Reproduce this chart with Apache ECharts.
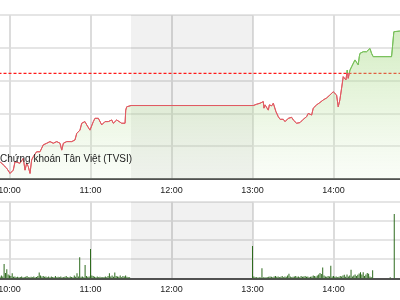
<!DOCTYPE html>
<html><head><meta charset="utf-8">
<script src="https://cdn.jsdelivr.net/npm/echarts@6/dist/echarts.min.js"></script>
<style>html,body{margin:0;padding:0;background:#fff}#c{width:400px;height:300px}</style>
</head><body><div id="c"></div>
<script>
// time in minutes since midnight
const priceTimes = [593.0,595.4,597.9,600.4,601.6,602.8,604.1,605.3,607.8,610.2,611.5,612.7,613.9,615.2,616.4,617.6,620.1,622.6,625.0,626.3,627.6,630.0,631.3,632.4,635.0,637.4,638.7,639.9,642.4,646.1,648.5,649.8,651.0,652.2,653.5,654.7,655.9,657.2,658.4,659.6,660.9,662.1,663.3,664.6,665.8,667.0,668.3,669.5,670.7,672.0,673.2,674.4,675.7,676.9,679.4,680.6,683.1,684.3,685.6,686.1,686.8,690.0,
  780.6,783.1,785.6,786.8,788.0,788.5,789.3,790.5,791.7,792.5,793.5,794.2,795.4,796.7,797.4,798.4,799.1,800.4,801.6,802.8,804.1,805.3,806.5,807.8,809.0,810.2,811.5,812.7,813.9,815.2,816.4,817.6,818.9,820.1,821.3,822.6,823.8,825.0,826.3,827.5,829.9,832.4,834.9,837.3,839.8,841.0,842.3,843.5,844.7,846.0,847.2,848.5,849.2,850.2,850.9,852.2,853.4,854.6,855.9,856.6,857.1,858.3,859.1,859.6,860.8,862.0,863.3,864.5,865.7,867.0,868.2,869.4,883.0,883.7,884.7,889.1,893.0];
const priceValues = [560.53,560.43,560.33,560.17,560.12,560.27,560.53,560.58,560.48,560.63,560.27,560.48,560.38,560.17,560.58,560.68,560.83,560.83,561.04,560.98,561.09,561.14,561.19,561.09,561.14,561.09,560.88,561.09,561.14,561.14,561.19,561.39,561.39,561.49,561.70,561.65,561.75,561.65,561.59,561.49,561.55,561.75,561.85,561.90,561.85,561.90,561.65,561.70,561.75,561.70,561.75,561.70,561.80,561.70,561.80,561.75,561.70,561.75,561.70,562.10,562.20,562.24,
  562.24,562.28,562.31,562.33,562.36,562.16,562.26,562.31,562.10,562.26,562.29,562.23,562.31,562.26,562.05,562.00,561.90,561.82,561.78,561.82,561.75,561.80,561.85,561.82,561.88,561.80,561.82,561.70,561.65,561.72,561.70,561.82,561.80,561.90,562.00,562.02,561.95,562.16,562.20,562.26,562.33,562.41,562.47,562.56,562.66,562.69,562.56,562.20,562.41,562.77,563.12,563.14,563.02,563.32,563.07,563.32,563.42,563.48,563.63,563.58,563.68,563.48,563.73,563.83,563.83,563.88,563.83,563.88,563.93,563.98,563.83,563.73,563.73,564.03,564.49,564.51,564.51];
const refValue = 563.22;
const lunchBreak = [690, 780];
const axisRange = [540, 900];

const volMorningStart = 593;
const volMorning = [0.08,0.15,0.1,0.75,0.28,0.47,0.2,0.15,0.12,0.26,0.08,0.1,0.06,0.08,0.05,0.07,0.1,0.06,0.05,0.08,0.12,0.06,0.05,0.08,0.06,0.1,0.05,0.07,0.12,0.3,0.15,0.1,0.12,0.08,0.1,0.06,0.09,0.05,0.1,0.07,0.05,0.12,0.06,0.08,0.05,0.1,0.06,0.05,0.08,0.12,0.06,0.05,0.1,0.07,0.06,0.15,0.08,0.26,0.1,1.1,0.08,0.1,0.06,0.7,0.12,0.08,0.1,1.53,0.15,0.12,0.08,0.06,0.1,0.05,0.08,0.06,0.05,0.07,0.1,0.06,0.12,0.26,0.1,0.15,0.08,0.3,0.12,0.1,0.08,0.15,0.06,0.12,0.1,0.14,0.08,0.06,0.05];
const volAfternoonStart = 780;
const volAfternoon = [1.69,0.1,0.06,0.05,0.04,0.05,0.04,0.52,0.05,0.04,0.05,0.06,0.08,0.1,0.08,0.06,0.1,0.12,0.08,0.1,0.06,0.08,0.12,0.06,0.1,0.08,0.15,0.24,0.1,0.06,0.08,0.1,0.12,0.08,0.1,0.06,0.12,0.08,0.1,0.12,0.08,0.1,0.06,0.08,0.1,0.15,0.12,0.1,0.15,0.2,0.28,0.22,0.57,0.15,0.1,0.08,0.12,0.1,0.66,0.1,0.12,0.08,0.1,0.06,0.08,0.12,0.1,0.15,0.18,0.08,0.2,0.1,0.15,0.45,0.1,0.15,0.2,0.12,0.18,0.25,0.31,0.2,0.31,0.12,0.2,0.28,0.24,0.1,0.05,0.42];
const volLateTimes = [882, 885];
const volLateValues = [0.05, 3.36];

const priceData = priceTimes.map((t, i) => [t, priceValues[i]]);
const refData = axisRange.map(t => [t, refValue]);
const volData = volMorning.map((v, i) => [volMorningStart + i, v])
  .concat(volAfternoon.map((v, i) => [volAfternoonStart + i, v]))
  .concat(volLateTimes.map((t, i) => [t, volLateValues[i]]));

const RED = '#e05a62', GREEN = '#78c05a';
const fmt = v => { const h = Math.floor(v / 60), m = Math.round(v % 60); return h + ':' + (m < 10 ? '0' : '') + m; };
const FONT = '"Liberation Sans", Arial, sans-serif';
const xBase = {
  type: 'value', min: axisRange[0], max: axisRange[1], interval: 60,
  axisLine: { show: true, lineStyle: { color: '#222', width: 1.5 } },
  axisTick: { show: false },
  axisLabel: { formatter: fmt, fontSize: 9, color: '#222', fontFamily: FONT, margin: 7 },
  splitLine: { show: true, lineStyle: { color: '#dcdcdc', width: 2 } }
};
const yBase = {
  type: 'value', axisLine: { show: false }, axisTick: { show: false }, axisLabel: { show: false },
  splitLine: { show: true, lineStyle: { color: '#dcdcdc', width: 1.5 } }
};
const band = { silent: true, itemStyle: { color: 'rgba(0,0,0,0.055)' },
  data: [[{ xAxis: lunchBreak[0] }, { xAxis: lunchBreak[1] }]] };

const chart = echarts.init(document.getElementById('c'), null, { renderer: 'canvas' });
chart.setOption({
  animation: false,
  title: { text: 'Chứng khoán Tân Việt (TVSI)', left: 0, top: 154, padding: 0,
    textStyle: { fontSize: 10, fontWeight: 'normal', color: '#222', fontFamily: FONT } },
  grid: [
    { left: -71.5, right: -14.5, top: 15, height: 164, outerBoundsMode: 'none', containLabel: false },
    { left: -71.5, right: -14.5, top: 201.7, height: 76.6, outerBoundsMode: 'none', containLabel: false }
  ],
  xAxis: [Object.assign({ gridIndex: 0 }, xBase), Object.assign({ gridIndex: 1 }, xBase)],
  yAxis: [Object.assign({ gridIndex: 0, min: 560, max: 565, interval: 1 }, yBase),
          Object.assign({ gridIndex: 1, min: 0, max: 4, interval: 1 }, yBase)],
  series: [
    { id: 'ref', type: 'line', xAxisIndex: 0, yAxisIndex: 0, data: refData, z: 1, silent: true,
      showSymbol: false, lineStyle: { color: '#ff1a1a', type: [3, 2], width: 1.2 } },
    { id: 'price', type: 'line', xAxisIndex: 0, yAxisIndex: 0, data: priceData, z: 3, showSymbol: false,
      lineStyle: { width: 1, color: RED },
      areaStyle: { color: new echarts.graphic.LinearGradient(0, 0, 0, 1, [
        { offset: 0, color: 'rgba(150,210,110,0.6)' },
        { offset: 0.5, color: 'rgba(185,225,155,0.45)' },
        { offset: 1, color: 'rgba(230,244,220,0.3)' }]) },
      markArea: band },
    { id: 'vol', type: 'bar', xAxisIndex: 1, yAxisIndex: 1, data: volData, barWidth: 1, z: 3,
      itemStyle: { color: '#2e6b1e' }, markArea: band }
  ]
});
const yRef = chart.convertToPixel({ yAxisIndex: 0 }, refValue);
const H = 300, r = yRef / H;
chart.setOption({ series: [{ id: 'price', lineStyle: { color: new echarts.graphic.LinearGradient(0, 0, 0, H, [
  { offset: 0, color: GREEN }, { offset: r, color: GREEN }, { offset: r, color: RED }, { offset: 1, color: RED }], true) } }] });
</script></body></html>
